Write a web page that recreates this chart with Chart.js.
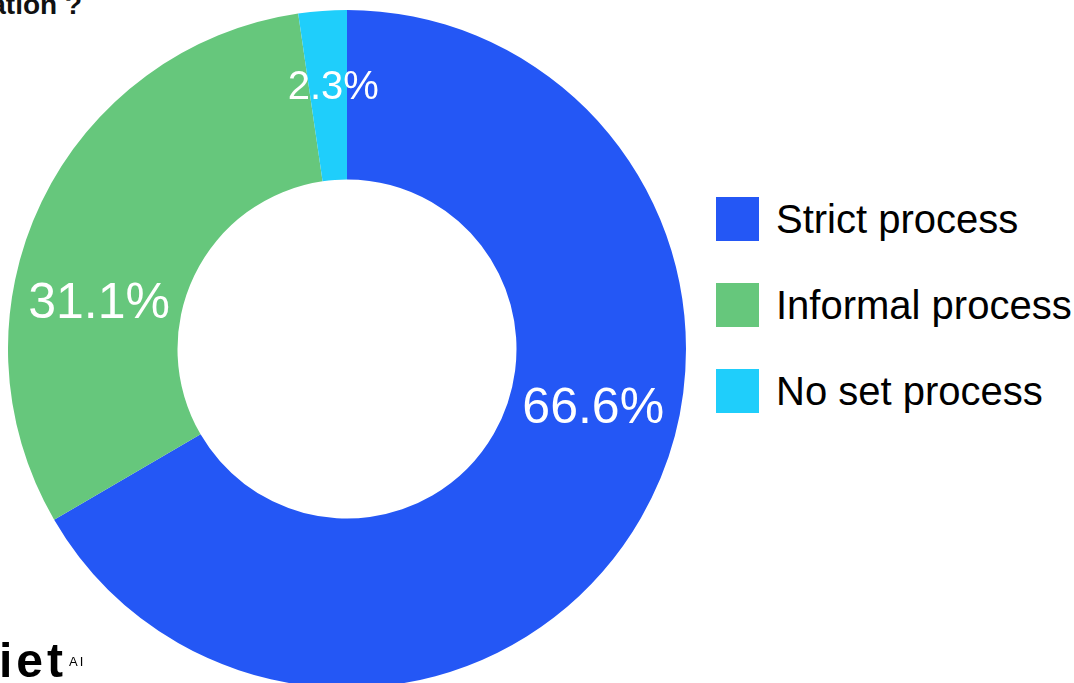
<!DOCTYPE html>
<html>
<head>
<meta charset="utf-8">
<script src="https://cdn.jsdelivr.net/npm/chart.js@4"></script>
<style>
    html, body { margin: 0; padding: 0; background: #fff; overflow: hidden; }
    body { width: 1074px; height: 683px; position: relative; }
    #title { position: absolute; right: 992px; top: -9px; font: bold 28px "Liberation Sans", Arial, sans-serif; line-height: 28px; color: #111; white-space: nowrap; }
    #chartBox { position: absolute; left: 8px; top: 10px; width: 678px; height: 678px; }
    #legend { position: absolute; left: 716px; top: 197px; font: 40px "Liberation Sans", Arial, sans-serif; color: #000; }
    #legend .row { display: flex; align-items: center; height: 44px; margin-bottom: 42px; white-space: nowrap; }
    #legend .box { width: 43px; height: 44px; margin-right: 17px; }
    #logo { position: absolute; left: -1px; top: 637px; font: bold 48px "Liberation Sans", Arial, sans-serif; line-height: 48px; color: #000; white-space: nowrap; letter-spacing: 4px; }
    #logo sup { font-size: 13px; vertical-align: 11px; margin-left: 2px; letter-spacing: 2px; font-weight: normal; }
</style>
</head>
<body>
<div id="title">ation ?</div>
<div id="chartBox"><canvas id="donut"></canvas></div>
<div id="legend"></div>
<div id="logo">iet<sup>AI</sup></div>

<script>
// answers, shares in percent, colours
const labels = ['Strict process', 'Informal process', 'No set process'];
const shares = [66.6, 31.1, 2.3];
const sliceColors = ['#2457f5', '#66c77c', '#1fcefb'];

// white percentage labels, placed near the horizontal/vertical direction inside each slice;
// very thin slices get a smaller label pushed outwards
const sliceLabels = {
    id: 'sliceLabels',
    afterDatasetsDraw(chart, args, opts) {
        const meta = chart.getDatasetMeta(0);
        const ctx = chart.ctx;
        ctx.save();
        ctx.fillStyle = opts.color;
        ctx.textAlign = 'center';
        ctx.textBaseline = 'alphabetic';
        meta.data.forEach((arc, i) => {
            const p = arc.getProps(['x', 'y', 'startAngle', 'endAngle', 'innerRadius', 'outerRadius'], true);
            const s = shares[i] < opts.small.below ? opts.small : opts;
            const mid = (p.startAngle + p.endAngle) / 2;
            let best = mid, bestD = Infinity;
            for (let k = -4; k <= 8; k++) {
                const a = k * Math.PI / 2;
                if (a >= p.startAngle - 1e-6 && a <= p.endAngle + 1e-6 && Math.abs(a - mid) < bestD) { best = a; bestD = Math.abs(a - mid); }
            }
            const ang = best + (mid - best) * s.pull;
            const r = p.innerRadius + (p.outerRadius - p.innerRadius) * s.radial;
            ctx.font = s.size + 'px ' + opts.family;
            ctx.fillText(shares[i].toFixed(1) + '%', p.x + r * Math.cos(ang), p.y + r * Math.sin(ang) + s.size * 0.358);
        });
        ctx.restore();
    }
};

new Chart(document.getElementById('donut').getContext('2d'), {
    type: 'doughnut',
    data: { labels, datasets: [{ data: shares, backgroundColor: sliceColors, borderWidth: 0 }] },
    options: {
        responsive: true, maintainAspectRatio: false, animation: false,
        cutout: '50%',
        layout: { padding: 0 },
        plugins: {
            legend: { display: false },
            tooltip: { enabled: false },
            sliceLabels: {
                family: '"Liberation Sans", Arial, sans-serif', color: '#fff',
                size: 50, pull: 0.43, radial: 0.49,
                small: { below: 5, size: 40, pull: 0.72, radial: 0.56 }
            }
        }
    },
    plugins: [sliceLabels]
});

// legend built from the same arrays
const legendEl = document.getElementById('legend');
labels.forEach((l, i) => {
    const row = document.createElement('div');
    row.className = 'row';
    row.innerHTML = '<div class="box" style="background:' + sliceColors[i] + '"></div><span>' + l + '</span>';
    legendEl.appendChild(row);
});
</script>
</body>
</html>
